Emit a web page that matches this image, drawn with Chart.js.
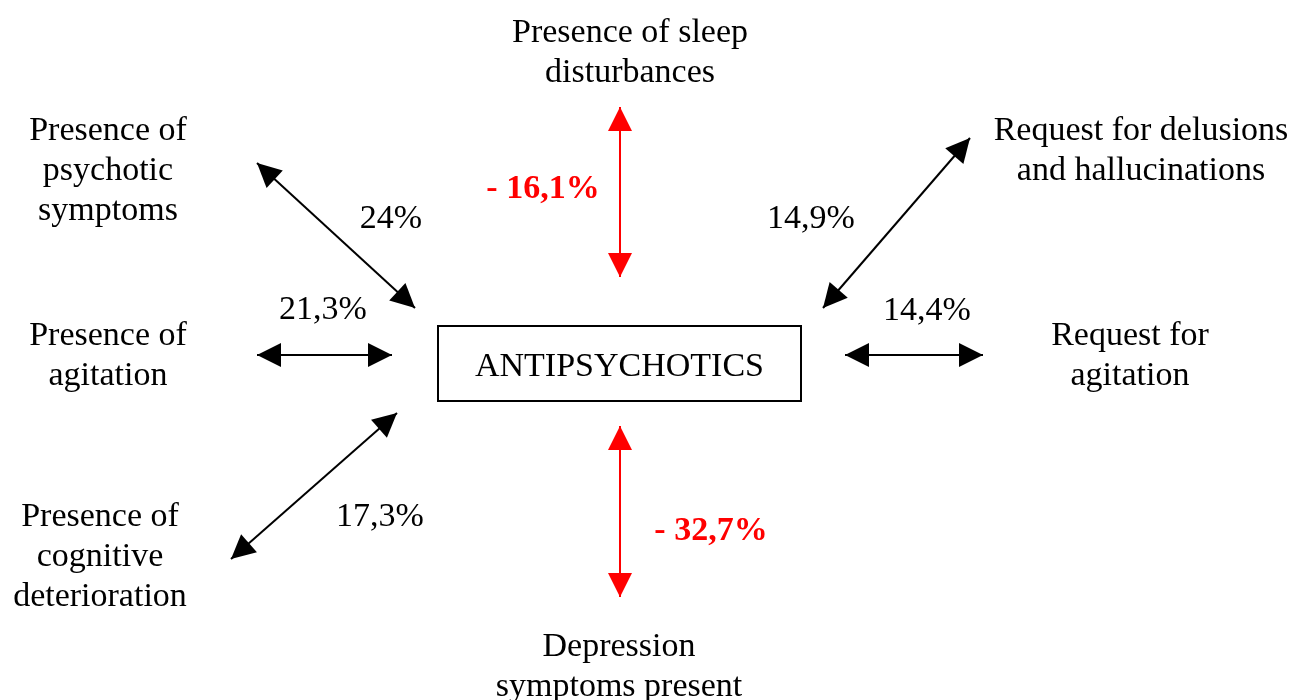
<!DOCTYPE html>
<html>
<head>
<meta charset="utf-8">
<script src="https://cdn.jsdelivr.net/npm/chart.js@4.4.0/dist/chart.umd.min.js"></script>
<style>
  body { margin: 0; background: #fff; }
  #wrap { width: 1293px; height: 700px; }
</style>
</head>
<body>
<div id="wrap"><canvas id="diagrama"></canvas></div>
<script>
// factores relacionados con el uso de antipsicoticos
const centro = 'ANTIPSYCHOTICS';
const factores = [
    ['Presence of sleep', 'disturbances'],
    ['Presence of', 'psychotic', 'symptoms'],
    ['Presence of', 'agitation'],
    ['Presence of', 'cognitive', 'deterioration'],
    ['Depression', 'symptoms present'],
    ['Request for delusions', 'and hallucinations'],
    ['Request for', 'agitation']
];
const efectos = ['- 16,1%', '24%', '21,3%', '17,3%', '- 32,7%', '14,9%', '14,4%'];

// posiciones del esquema (unidades de los ejes)
const posFactor = [[630, 50], [108, 168], [108, 353], [100, 554], [619, 664], [1141, 148], [1130, 353]];
const posEfecto = [[543, 186], [391, 216], [323, 307], [380, 514], [711, 528], [811, 216], [927, 308]];
const flechaDesde = [[620, 107], [257, 163], [257, 355], [231, 559], [620, 426], [970, 138], [845, 355]];
const flechaHasta = [[620, 277], [415, 308], [392, 355], [397, 413], [620, 597], [823, 308], [983, 355]];
const caja = [[438, 326], [801, 401]];

const fuente = '"Liberation Serif", "Times New Roman", serif';
const colorDe = i => efectos[i].startsWith('-') ? '#ff0000' : '#000000';

const datasets = flechaDesde.map((p, i) => ({
    label: factores[i].join(' '),
    data: [{ x: p[0], y: p[1] }, { x: flechaHasta[i][0], y: flechaHasta[i][1] }],
    borderColor: colorDe(i),
    borderWidth: 2,
    pointRadius: 0,
    showLine: true,
    fill: false
}));

// puntas de flecha, caja central y textos
const esquema = {
    id: 'esquema',
    afterDatasetsDraw(chart) {
        const c = chart.ctx;
        const sx = chart.scales.x, sy = chart.scales.y;
        const px = v => sx.getPixelForValue(v), py = v => sy.getPixelForValue(v);

        chart.data.datasets.forEach((ds, i) => {
            const pts = chart.getDatasetMeta(i).data;
            const a = pts[0], b = pts[1];
            [[a, b], [b, a]].forEach(([tip, otro]) => {
                const dx = tip.x - otro.x, dy = tip.y - otro.y;
                const len = Math.hypot(dx, dy);
                const ux = dx / len, uy = dy / len;
                const L = 24, W = 12;
                const bx = tip.x - ux * L, by = tip.y - uy * L;
                c.beginPath();
                c.moveTo(tip.x, tip.y);
                c.lineTo(bx - uy * W, by + ux * W);
                c.lineTo(bx + uy * W, by - ux * W);
                c.closePath();
                c.fillStyle = ds.borderColor;
                c.fill();
            });
        });

        c.save();
        c.strokeStyle = '#000';
        c.lineWidth = 2;
        const x0 = px(caja[0][0]), y0 = py(caja[0][1]);
        const x1 = px(caja[1][0]), y1 = py(caja[1][1]);
        c.strokeRect(x0, y0, x1 - x0, y1 - y0);

        c.textAlign = 'center';
        c.textBaseline = 'alphabetic';
        c.fillStyle = '#000';
        c.font = '34px ' + fuente;
        c.fillText(centro, (x0 + x1) / 2, (y0 + y1) / 2 + 12);

        factores.forEach((lineas, i) => {
            const cx = px(posFactor[i][0]);
            const cy = py(posFactor[i][1]);
            const inicio = cy - (lineas.length - 1) * 20;
            lineas.forEach((t, k) => c.fillText(t, cx, inicio + k * 40 + 12));
        });

        efectos.forEach((t, i) => {
            const neg = t.startsWith('-');
            c.font = (neg ? 'bold ' : '') + '34px ' + fuente;
            c.fillStyle = colorDe(i);
            c.fillText(t, px(posEfecto[i][0]), py(posEfecto[i][1]) + 12);
        });
        c.restore();
    }
};

const ctx = document.getElementById('diagrama').getContext('2d');
new Chart(ctx, {
    type: 'scatter',
    data: { datasets: datasets },
    options: {
        responsive: true,
        maintainAspectRatio: false,
        animation: false,
        layout: { padding: 0 },
        plugins: { legend: { display: false }, tooltip: { enabled: false } },
        scales: {
            x: { type: 'linear', min: 0, max: 1293, display: false },
            y: { type: 'linear', min: 0, max: 700, reverse: true, display: false }
        }
    },
    plugins: [esquema]
});
</script>
</body>
</html>
